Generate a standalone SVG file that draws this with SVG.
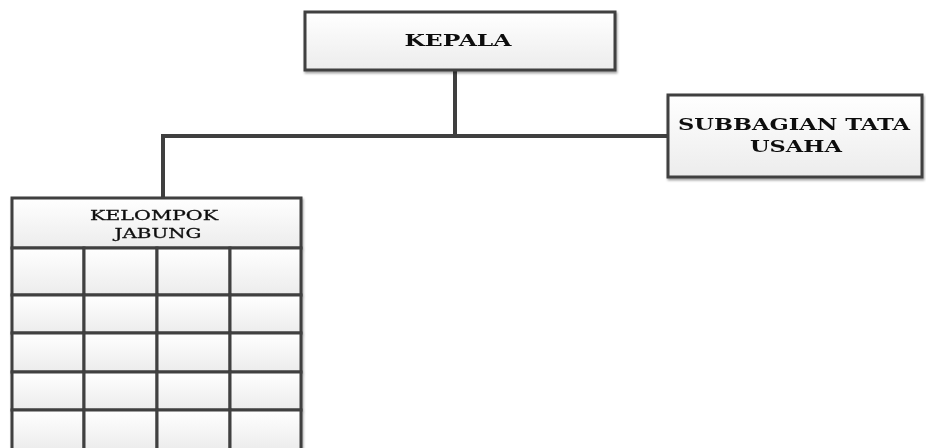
<svg xmlns="http://www.w3.org/2000/svg" width="926" height="448" viewBox="0 0 926 448">
<style>
.box{fill:url(#g);stroke:#3f3f3f;stroke-width:3}
.cell{fill:url(#g);stroke:#3f3f3f;stroke-width:3}
.conn{fill:none;stroke:#3f3f3f;stroke-width:4}
.t{font-family:"DejaVu Serif","Liberation Serif",serif;font-weight:bold;font-size:16px;fill:#111;text-anchor:middle}
.tl{font-family:"DejaVu Serif","Liberation Serif",serif;font-size:13px;fill:#111;text-anchor:middle;stroke:#111;stroke-width:0.3}
</style>
<defs>
<linearGradient id="g" x1="0" y1="0" x2="0" y2="1">
<stop offset="0" stop-color="#ffffff"/>
<stop offset="1" stop-color="#ececec"/>
</linearGradient>
<filter id="sh" x="-5%" y="-5%" width="110%" height="120%">
<feDropShadow dx="1" dy="2" stdDeviation="1.2" flood-color="#000" flood-opacity="0.35"/>
</filter>
</defs>
<g id="connectors">
<path class="conn" d="M455 70 V136"/>
<path class="conn" d="M163 198 V136 H668"/>
</g>
<g id="kepala" filter="url(#sh)">
<rect class="box" x="305" y="12" width="310" height="58"/>
<text class="t" x="458" y="46" textLength="107" lengthAdjust="spacingAndGlyphs">KEPALA</text>
</g>
<g id="subbagian" filter="url(#sh)">
<rect class="box" x="668" y="95" width="254" height="82"/>
<text class="t" x="794" y="130" textLength="232" lengthAdjust="spacingAndGlyphs">SUBBAGIAN TATA</text>
<text class="t" x="796" y="152" textLength="92" lengthAdjust="spacingAndGlyphs">USAHA</text>
</g>
<g id="kelompok" filter="url(#sh)">
<rect class="box" x="12" y="198" width="289" height="50"/>
<text class="tl" x="154" y="220" textLength="128" lengthAdjust="spacingAndGlyphs">KELOMPOK</text>
<text class="tl" x="158" y="238" textLength="87" lengthAdjust="spacingAndGlyphs">JABUNG</text>
<g id="grid">
<rect class="cell" x="12" y="248" width="72" height="47"/>
<rect class="cell" x="84" y="248" width="73" height="47"/>
<rect class="cell" x="157" y="248" width="73" height="47"/>
<rect class="cell" x="230" y="248" width="71" height="47"/>
<rect class="cell" x="12" y="295" width="72" height="38"/>
<rect class="cell" x="84" y="295" width="73" height="38"/>
<rect class="cell" x="157" y="295" width="73" height="38"/>
<rect class="cell" x="230" y="295" width="71" height="38"/>
<rect class="cell" x="12" y="333" width="72" height="39"/>
<rect class="cell" x="84" y="333" width="73" height="39"/>
<rect class="cell" x="157" y="333" width="73" height="39"/>
<rect class="cell" x="230" y="333" width="71" height="39"/>
<rect class="cell" x="12" y="372" width="72" height="38"/>
<rect class="cell" x="84" y="372" width="73" height="38"/>
<rect class="cell" x="157" y="372" width="73" height="38"/>
<rect class="cell" x="230" y="372" width="71" height="38"/>
<rect class="cell" x="12" y="410" width="72" height="40"/>
<rect class="cell" x="84" y="410" width="73" height="40"/>
<rect class="cell" x="157" y="410" width="73" height="40"/>
<rect class="cell" x="230" y="410" width="71" height="40"/>
</g>
</g>
</svg>
